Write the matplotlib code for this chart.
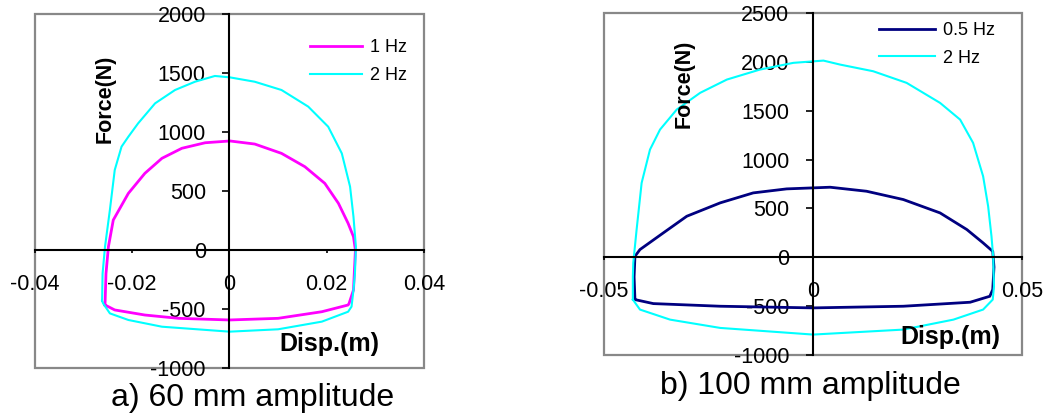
import matplotlib
matplotlib.use("Agg")
import matplotlib.pyplot as plt
from matplotlib.patches import Rectangle

plt.rcParams['font.family'] = ['Liberation Sans', 'DejaVu Sans']

# a) 60 mm amplitude
disp_a_1hz = [-0.0256, -0.0254, -0.0249, -0.0239, -0.0208, -0.0174, -0.0139, -0.0098,
              -0.0050, 0.0001, 0.0052, 0.0107, 0.0155, 0.0196, 0.0224, 0.0244, 0.0255,
              0.0259, 0.0255, 0.0246, 0.0244, 0.0190, 0.0100, 0.0, -0.0105, -0.0174,
              -0.0236, -0.0256]
force_a_1hz = [-466, -200, 28, 254, 480, 650, 777, 862, 909, 924, 898, 819, 706, 565,
               396, 226, 113, 0, -339, -452, -466, -523, -579, -593, -579, -551, -508,
               -466]

disp_a_2hz = [-0.0262, -0.0261, -0.0256, -0.0246, -0.0236, -0.0222, -0.0208, -0.0188,
              -0.0153, -0.0112, -0.0071, -0.0030, 0.0001, 0.0052, 0.0107, 0.0162, 0.0203,
              0.0231, 0.0248, 0.0255, 0.0260, 0.0258, 0.0255, 0.0251, 0.0244, 0.0190,
              0.0100, 0.0, -0.0139, -0.0208, -0.0246, -0.0260, -0.0262]
force_a_2hz = [-430, -200, 28, 339, 678, 876, 960, 1073, 1243, 1356, 1426, 1475, 1463,
               1426, 1356, 1215, 1045, 819, 537, 282, 28, -200, -339, -480, -523, -607,
               -672, -692, -650, -593, -537, -452, -430]

# b) 100 mm amplitude
disp_b_05hz = [-0.0426, -0.0428, -0.0426, -0.0414, -0.0358, -0.0302, -0.0222, -0.0143,
               -0.0063, 0.0041, 0.0128, 0.0216, 0.0304, 0.0368, 0.0407, 0.0430, 0.0433,
               0.0430, 0.0423, 0.0376, 0.0216, 0.0, -0.0222, -0.0382, -0.0426]
force_b_05hz = [-433, -200, 10, 79, 250, 420, 557, 659, 700, 717, 676, 591, 454, 284,
                147, 61, -100, -330, -399, -460, -501, -518, -501, -474, -433]

disp_b_2hz = [-0.0431, -0.0431, -0.0430, -0.0422, -0.0410, -0.0390, -0.0366, -0.0326,
              -0.0270, -0.0206, -0.0127, -0.0047, 0.0025, 0.0065, 0.0144, 0.0224, 0.0304,
              0.0352, 0.0383, 0.0407, 0.0419, 0.0427, 0.0431, 0.0433, 0.0430, 0.0407,
              0.0336, 0.0216, 0.0, -0.0222, -0.0342, -0.0414, -0.0431]
force_b_2hz = [-433, -200, -57, 284, 761, 1102, 1307, 1512, 1683, 1819, 1921, 1990, 2013,
               1972, 1904, 1785, 1580, 1409, 1171, 829, 522, 215, 10, -296, -433, -535,
               -638, -740, -791, -723, -638, -535, -433]

xticks_a = [-0.04, -0.02, 0, 0.02, 0.04]
xticklabels_a = ['-0.04', '-0.02', '0', '0.02', '0.04']
yticks_a = [-1000, -500, 0, 500, 1000, 1500, 2000]

xticks_b = [-0.05, 0, 0.05]
xticklabels_b = ['-0.05', '0', '0.05']
yticks_b = [-1000, -500, 0, 500, 1000, 1500, 2000, 2500]


def style_axes(ax, xticks, xlabels, yticks):
    ax.set_xlim(xticks[0], xticks[-1])
    ax.set_ylim(yticks[0], yticks[-1])
    ax.set_xticks(xticks)
    ax.set_xticklabels(xlabels)
    ax.set_yticks(yticks)
    ax.set_yticklabels([str(v) for v in yticks])
    for side in ['left', 'bottom']:
        ax.spines[side].set_position(('data', 0))
        ax.spines[side].set_color('black')
        ax.spines[side].set_linewidth(1.5)
    for side in ['top', 'right']:
        ax.spines[side].set_visible(False)
    ax.add_patch(Rectangle((0, 0), 1, 1, transform=ax.transAxes, fill=False,
                           edgecolor='#888888', linewidth=1.6, clip_on=False, zorder=0))
    ax.tick_params(axis='y', direction='out', length=5, width=1.2, pad=12, labelsize=15.5)
    ax.tick_params(axis='x', direction='out', length=2, width=1.2, pad=15, labelsize=15.5)
    ax.set_facecolor('none')


fig = plt.figure(figsize=(10.51, 4.17), dpi=100)

ax1 = fig.add_axes([0.0333, 0.1175, 0.3701, 0.8489])
ax1.plot(disp_a_1hz, force_a_1hz, color='#ff00ff', linewidth=2, label='1 Hz')
ax1.plot(disp_a_2hz, force_a_2hz, color='#00ffff', linewidth=1.5, label='2 Hz')
style_axes(ax1, xticks_a, xticklabels_a, yticks_a)
ax1.legend(loc='upper left', bbox_to_anchor=(0.707, 0.928), frameon=False, fontsize=13,
           handlelength=2.88, handletextpad=0.45, labelspacing=0.58, borderpad=0,
           borderaxespad=0)
ax1.text(0.18, 0.76, 'Force(N)', transform=ax1.transAxes, rotation=90,
         fontsize=15.5, fontweight='bold', ha='center', va='center')
ax1.text(0.756, 0.068, 'Disp.(m)', transform=ax1.transAxes,
         fontsize=18, fontweight='bold', ha='center', va='center')

ax2 = fig.add_axes([0.5747, 0.1487, 0.3977, 0.8201])
ax2.plot(disp_b_05hz, force_b_05hz, color='#000080', linewidth=2, label='0.5 Hz')
ax2.plot(disp_b_2hz, force_b_2hz, color='#00ffff', linewidth=1.5, label='2 Hz')
style_axes(ax2, xticks_b, xticklabels_b, yticks_b)
ax2.legend(loc='upper left', bbox_to_anchor=(0.658, 0.973), frameon=False, fontsize=13,
           handlelength=3.1, handletextpad=0.45, labelspacing=0.58, borderpad=0,
           borderaxespad=0)
ax2.text(0.191, 0.792, 'Force(N)', transform=ax2.transAxes, rotation=90,
         fontsize=15.5, fontweight='bold', ha='center', va='center')
ax2.text(0.828, 0.053, 'Disp.(m)', transform=ax2.transAxes,
         fontsize=18, fontweight='bold', ha='center', va='center')

fig.text(0.2407, 0.0456, 'a) 60 mm amplitude', fontsize=23, ha='center', va='center')
fig.text(0.7707, 0.0743, 'b) 100 mm amplitude', fontsize=23, ha='center', va='center')

fig.savefig('out.png', dpi=100)
